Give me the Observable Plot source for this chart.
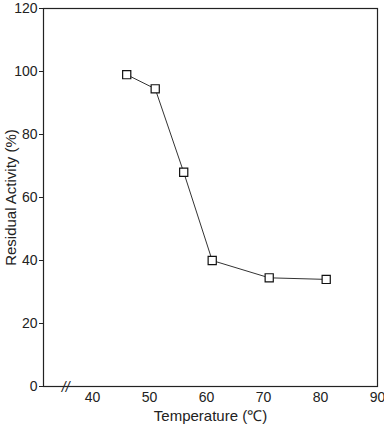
<!DOCTYPE html>
<html><head><meta charset="utf-8">
<script src="https://cdn.jsdelivr.net/npm/d3@7"></script>
<script src="https://cdn.jsdelivr.net/npm/@observablehq/plot@0.6"></script>
<style>
body{margin:0;background:#fff;}
#chart svg{display:block;}
</style>
</head><body><div id="chart"></div>
<script>
const temperatures = [46, 51, 56, 61, 71, 81];
const activity = [99, 94.5, 68, 40, 34.5, 34];
const xTicks = [40, 50, 60, 70, 80, 90];
const yTicks = [0, 20, 40, 60, 80, 100, 120];
const breakMark = [{x: 35.3, y: 0, t: "//"}];

const data = temperatures.map((t, i) => ({t, a: activity[i]}));

const chart = Plot.plot({
  width: 384,
  height: 426,
  marginLeft: 43,
  marginRight: 7,
  marginTop: 8,
  marginBottom: 40,
  style: {fontFamily: "'Liberation Sans', Arial, sans-serif", fontSize: "14px", color: "#222", background: "#fff"},
  x: {domain: [31.4, 90]},
  y: {domain: [0, 120]},
  marks: [
    Plot.frame({stroke: "#222", strokeWidth: 1.2}),
    Plot.axisY({ticks: yTicks, tickSize: 4, tickPadding: 2, fontSize: 14, label: null}),
    Plot.axisY({ticks: [], tickSize: 0, label: "Residual Activity (%)", labelAnchor: "center", labelArrow: "none", labelOffset: 38, fontSize: 15}),
    Plot.axisX({ticks: xTicks, tickSize: 0, tickPadding: 6, fontSize: 14, label: null}),
    Plot.axisX({ticks: [], tickSize: 0, label: "Temperature (℃)", labelAnchor: "center", labelArrow: "none", labelOffset: 34, fontSize: 15}),
    Plot.line(data, {x: "t", y: "a", stroke: "#333", strokeWidth: 1}),
    Plot.dot(data, {x: "t", y: "a", symbol: "square", r: 4.6, fill: "white", stroke: "#111", strokeWidth: 1.2}),
    Plot.text(breakMark, {x: "x", y: "y", text: "t", fontSize: 14, fontStyle: "italic", fill: "#222", dy: 1})
  ]
});
document.getElementById("chart").appendChild(chart);
</script>
</body></html>
